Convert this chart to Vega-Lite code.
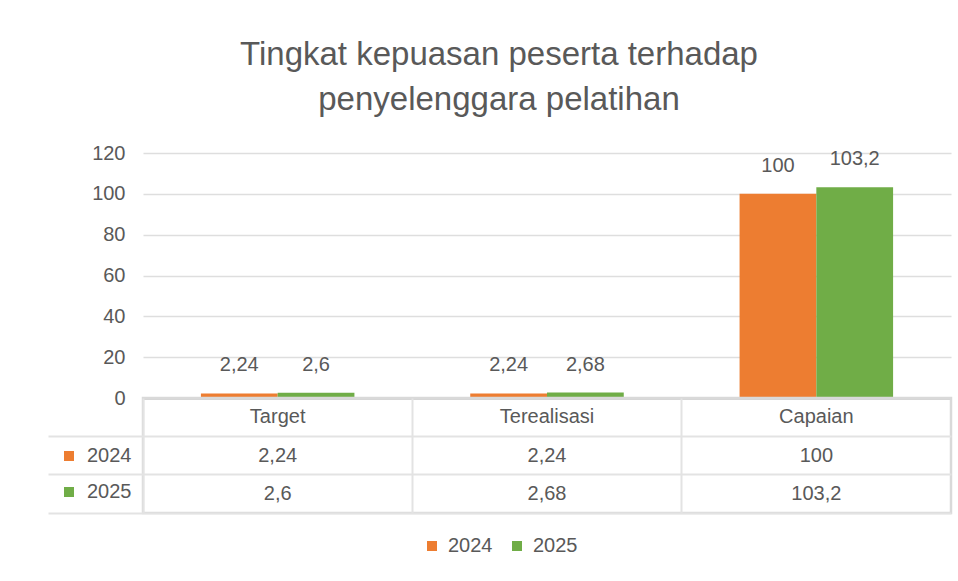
{
  "$schema": "https://vega.github.io/schema/vega-lite/v6.json",
  "background": "white",
  "padding": {"left": 45, "top": 39, "right": 8, "bottom": 8},
  "title": {
    "text": ["Tingkat kepuasan peserta terhadap", "penyelenggara pelatihan"],
    "fontSize": 33,
    "fontWeight": "normal",
    "color": "#595959",
    "lineHeight": 45,
    "anchor": "middle",
    "offset": 26
  },
  "datasets": {
    "bars": [
      {"kategori": "Target", "tahun": "2024", "nilai": 2.24},
      {"kategori": "Target", "tahun": "2025", "nilai": 2.6},
      {"kategori": "Terealisasi", "tahun": "2024", "nilai": 2.24},
      {"kategori": "Terealisasi", "tahun": "2025", "nilai": 2.68},
      {"kategori": "Capaian", "tahun": "2024", "nilai": 100},
      {"kategori": "Capaian", "tahun": "2025", "nilai": 103.2}
    ],
    "kolom": [
      {"kategori": "Target"},
      {"kategori": "Terealisasi"},
      {"kategori": "Capaian"}
    ]
  },
  "spacing": 0,
  "bounds": "flush",
  "vconcat": [
    {
      "width": 808,
      "height": 245,
      "data": {"name": "bars"},
      "encoding": {
        "x": {
          "field": "kategori", "type": "nominal",
          "sort": ["Target", "Terealisasi", "Capaian"],
          "scale": {"paddingInner": 0.43, "paddingOuter": 0.215},
          "axis": {"labels": false, "ticks": false, "title": null, "domain": true, "domainColor": "#d4d4d4", "domainWidth": 3}
        },
        "y": {
          "field": "nilai", "type": "quantitative",
          "scale": {"domain": [0, 120], "nice": false},
          "axis": {"values": [0, 20, 40, 60, 80, 100, 120], "title": null, "domain": false, "ticks": false, "labelPadding": 18, "gridColor": "#dedede", "gridWidth": 1.5}
        },
        "xOffset": {"field": "tahun", "type": "nominal", "sort": ["2024", "2025"]}
      },
      "layer": [
        {
          "mark": {"type": "bar"},
          "encoding": {
            "color": {
              "field": "tahun", "type": "nominal",
              "scale": {"domain": ["2024", "2025"], "range": ["#ed7d31", "#70ad47"]},
              "legend": {"orient": "none", "legendX": 279, "legendY": 383, "direction": "horizontal", "title": null}
            }
          }
        },
        {
          "mark": {"type": "text", "dy": -28, "baseline": "middle"},
          "encoding": {"text": {"field": "nilai", "type": "quantitative", "format": ".4~r"}}
        }
      ]
    },
    {
      "width": 808,
      "height": 115,
      "view": {"stroke": "#d9d9d9", "strokeWidth": 2.5},
      "layer": [
        {
          "data": {"name": "kolom"},
          "mark": {"type": "text", "baseline": "middle"},
          "encoding": {
            "x": {"field": "kategori", "type": "nominal", "sort": ["Target", "Terealisasi", "Capaian"]},
            "y": {"datum": "h", "type": "nominal"},
            "text": {"field": "kategori"}
          }
        },
        {
          "data": {"name": "bars"},
          "mark": {"type": "text", "baseline": "middle"},
          "encoding": {
            "x": {
              "field": "kategori", "type": "nominal",
              "sort": ["Target", "Terealisasi", "Capaian"],
              "scale": {"type": "band", "paddingInner": 0, "paddingOuter": 0},
              "axis": {"orient": "bottom", "labels": false, "ticks": false, "domain": false, "title": null, "grid": true, "bandPosition": 0, "gridColor": "#e3e3e3", "gridWidth": 2}
            },
            "y": {
              "field": "tahun", "type": "nominal",
              "scale": {"type": "band", "domain": ["h", "2024", "2025"], "paddingInner": 0, "paddingOuter": 0},
              "axis": {"labels": false, "domain": false, "title": null, "ticks": true, "tickSize": 95, "tickColor": "#e3e3e3", "tickWidth": 2, "grid": true, "gridColor": "#e3e3e3", "gridWidth": 2, "bandPosition": 1}
            },
            "text": {"field": "nilai", "type": "quantitative", "format": ".4~r"}
          }
        },
        {
          "data": {"name": "bars"},
          "mark": {"type": "point", "shape": "square", "filled": true, "opacity": 0},
          "encoding": {
            "x": {"field": "kategori", "type": "nominal", "sort": ["Target", "Terealisasi", "Capaian"]},
            "y": {"field": "tahun", "type": "nominal"},
            "color": {
              "field": "tahun", "type": "nominal",
              "scale": {"domain": ["2024", "2025"], "range": ["#ed7d31", "#70ad47"]},
              "legend": {"orient": "none", "legendX": -84, "legendY": 48, "direction": "vertical", "title": null, "symbolOpacity": 1, "labelOffset": 8}
            }
          }
        }
      ]
    }
  ],
  "resolve": {
    "scale": {"x": "independent", "y": "independent"},
    "legend": {"color": "independent"}
  },
  "config": {
    "font": "Liberation Sans",
    "view": {"stroke": null},
    "text": {"fontSize": 20, "color": "#595959"},
    "axis": {"labelFontSize": 20, "labelColor": "#595959"},
    "legend": {"labelFontSize": 20, "labelColor": "#595959", "symbolType": "square", "symbolSize": 100, "padding": 0, "labelOffset": 6, "columnPadding": 14, "rowPadding": 16, "symbolStrokeWidth": 0},
    "locale": {"number": {"decimal": ",", "thousands": ".", "grouping": [3], "currency": ["Rp", ""]}}
  }
}
